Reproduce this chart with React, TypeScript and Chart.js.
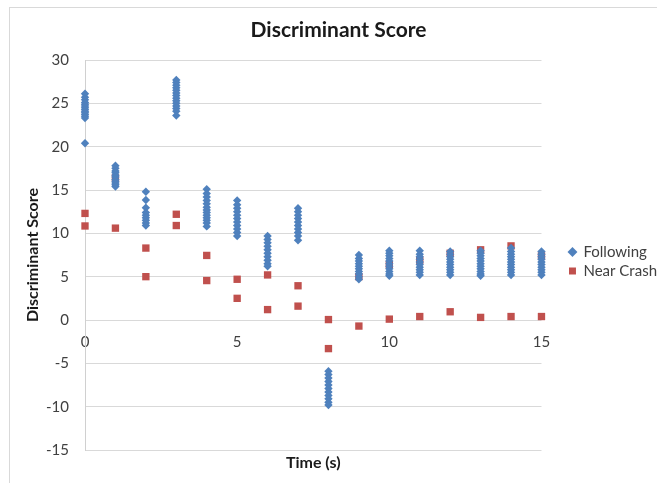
import { useEffect, useRef } from 'react';
import { Chart, registerables } from 'chart.js';

Chart.register(...registerables);

if (typeof document !== 'undefined') {
  document.body.style.margin = '0';
}

const FONT = 'Lato, "DejaVu Sans", sans-serif';

const timeSteps = [0, 1, 2, 3, 4, 5, 6, 7, 8, 9, 10, 11, 12, 13, 14, 15];

const followingScores: number[][] = [
  [26.1, 25.7, 25.4, 25.1, 24.9, 24.7, 24.5, 24.3, 24.1, 23.9, 23.7, 23.5, 23.3, 20.4],
  [17.8, 17.5, 17.2, 17.0, 16.7, 16.5, 16.2, 16.0, 15.8, 15.6, 15.4],
  [14.8, 13.85, 12.95, 12.4, 12.1, 11.8, 11.5, 11.2, 10.9],
  [27.7, 27.4, 27.1, 26.8, 26.5, 26.2, 25.9, 25.6, 25.3, 25.0, 24.7, 24.4, 24.1, 23.6],
  [15.1, 14.6, 14.2, 13.8, 13.4, 13.0, 12.7, 12.4, 12.1, 11.8, 11.5, 11.2, 10.8],
  [13.8, 13.3, 12.9, 12.5, 12.1, 11.7, 11.3, 10.9, 10.5, 10.1, 9.7],
  [9.7, 9.3, 8.9, 8.5, 8.1, 7.7, 7.3, 6.9, 6.5, 6.2],
  [12.9, 12.5, 12.1, 11.7, 11.3, 10.9, 10.5, 10.1, 9.7, 9.2],
  [-5.9, -6.3, -6.7, -7.1, -7.5, -7.9, -8.3, -8.7, -9.1, -9.5, -9.8],
  [7.5, 7.1, 6.8, 6.5, 6.2, 5.9, 5.6, 5.3, 5.0, 4.7],
  [8.0, 7.7, 7.4, 7.1, 6.8, 6.5, 6.2, 5.9, 5.6, 5.3, 5.1],
  [8.0, 7.6, 7.3, 7.0, 6.7, 6.4, 6.1, 5.8, 5.5, 5.2],
  [7.9, 7.6, 7.3, 7.0, 6.7, 6.4, 6.1, 5.8, 5.5, 5.2],
  [8.0, 7.7, 7.4, 7.1, 6.8, 6.5, 6.2, 5.9, 5.6, 5.3, 5.1],
  [8.3, 7.9, 7.6, 7.3, 7.0, 6.7, 6.4, 6.1, 5.8, 5.5, 5.2],
  [7.9, 7.6, 7.3, 7.0, 6.7, 6.4, 6.1, 5.8, 5.5, 5.2],
];

const nearCrashScores: number[][] = [
  [12.3, 10.85],
  [16.4, 10.6],
  [8.3, 5.0],
  [12.2, 10.9],
  [7.45, 4.55],
  [4.7, 2.5],
  [5.2, 1.2],
  [3.95, 1.6],
  [0.05, -3.3],
  [5.0, -0.7],
  [6.4, 0.1],
  [6.9, 0.4],
  [7.7, 0.95],
  [8.1, 0.3],
  [8.55, 0.4],
  [7.4, 0.4],
];

const seriesNames = ['Following', 'Near Crash'];
const yTicks = [-15, -10, -5, 0, 5, 10, 15, 20, 25, 30];
const xTicks = [0, 5, 10, 15];

const LEGEND_FONT_SIZE = 15;

export default function App() {
  const ref = useRef<HTMLCanvasElement>(null);

  useEffect(() => {
    const canvas = ref.current;
    if (!canvas) return;
    document.body.style.margin = '0';
    const following = timeSteps.flatMap((t, i) => followingScores[i].map((v) => ({ x: t, y: v })));
    const nearCrash = timeSteps.flatMap((t, i) => nearCrashScores[i].map((v) => ({ x: t, y: v })));

    // size the canvas so that the legend text starts where it does in the reference
    const mctx = document.createElement('canvas').getContext('2d')!;
    mctx.font = `${LEGEND_FONT_SIZE}px ${FONT}`;
    const textW = Math.max(...seriesNames.map((n) => mctx.measureText(n).width));
    canvas.width = Math.round(583 + textW);
    canvas.height = 475;

    const chart = new Chart(canvas, {
      type: 'scatter',
      data: {
        datasets: [
          {
            label: seriesNames[0],
            data: following,
            pointStyle: 'rectRot',
            pointRadius: 4.2,
            backgroundColor: '#4f81bd',
            borderColor: '#4f81bd',
            borderWidth: 0,
            clip: false,
            xAxisID: 'x',
            yAxisID: 'y',
          },
          {
            label: seriesNames[1],
            data: nearCrash,
            pointStyle: 'rect',
            pointRadius: 5.2,
            backgroundColor: '#c0504d',
            borderColor: '#c0504d',
            borderWidth: 0,
            clip: false,
            xAxisID: 'x',
            yAxisID: 'y',
          },
        ],
      },
      options: {
        responsive: false,
        animation: false,
        layout: { padding: 0 },
        plugins: {
          title: {
            display: true,
            text: 'Discriminant Score',
            color: '#1a1a1a',
            font: { family: FONT, size: 21, weight: 'bold' },
            padding: { top: 9.4, bottom: 17.4 },
          },
          legend: {
            position: 'right',
            fullSize: false,
            maxWidth: 300,
            title: { display: true, text: '', font: { family: FONT, size: 10 }, padding: { top: 1, bottom: 0 } },
            labels: {
              usePointStyle: true,
              boxWidth: 7,
              boxHeight: 7,
              padding: 4,
              color: '#404040',
              font: { family: FONT, size: LEGEND_FONT_SIZE },
            },
          },
          tooltip: { enabled: false },
        },
        scales: {
          x: {
            type: 'linear',
            axis: 'x',
            position: 'bottom',
            min: 0,
            max: 15,
            ticks: { display: false },
            grid: { display: false, drawTicks: false },
            border: { display: false },
            title: {
              display: true,
              text: 'Time (s)',
              color: '#1a1a1a',
              font: { family: FONT, size: 16, weight: 'bold' },
              padding: { top: 0, bottom: 10.4 },
            },
            afterFit: (s: any) => {
              s.height = 33;
            },
          },
          x2: {
            type: 'linear',
            axis: 'x',
            position: { y: 0 },
            min: 0,
            max: 15,
            afterBuildTicks: (s: any) => {
              s.ticks = xTicks.map((v) => ({ value: v }));
            },
            grid: { display: false, drawTicks: false },
            border: { display: false },
            ticks: { padding: 13, color: '#404040', font: { family: FONT, size: 15 } },
          },
          y: {
            type: 'linear',
            axis: 'y',
            position: 'left',
            min: -15,
            max: 30,
            afterBuildTicks: (s: any) => {
              s.ticks = yTicks.map((v) => ({ value: v }));
            },
            grid: { color: '#d9d9d9', drawTicks: false },
            border: { color: '#d0d0d0' },
            ticks: { padding: 16, color: '#404040', font: { family: FONT, size: 15 } },
            title: {
              display: true,
              text: 'Discriminant Score',
              color: '#1a1a1a',
              font: { family: FONT, size: 16, weight: 'bold' },
              padding: { top: 13.4, bottom: 0 },
            },
            afterFit: (s: any) => {
              s.width = 75;
            },
          },
          y2: {
            type: 'linear',
            axis: 'y',
            position: 'right',
            min: 0,
            max: 1,
            grid: { display: false, drawTicks: false },
            border: { display: false },
            ticks: { display: false },
            afterFit: (s: any) => {
              s.width = 23.5;
            },
          },
        },
      } as any,
    });

    return () => chart.destroy();
  }, []);

  return (
    <div
      style={{
        width: 657,
        height: 483,
        boxSizing: 'border-box',
        padding: '7px 0 0 9px',
        overflow: 'hidden',
        background: '#fff',
      }}
    >
      <div
        style={{
          width: 647,
          height: 475,
          borderTop: '1px solid #d9d9d9',
          borderLeft: '1px solid #d9d9d9',
          overflow: 'hidden',
        }}
      >
        <canvas ref={ref} width={654} height={475} style={{ display: 'block' }} />
      </div>
    </div>
  );
}
